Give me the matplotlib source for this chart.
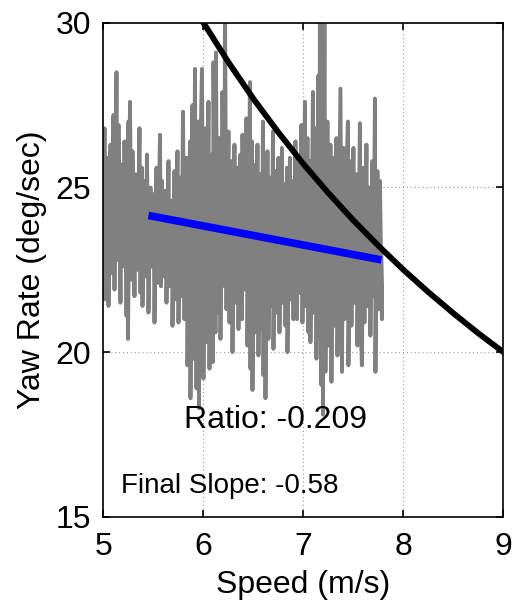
import matplotlib
matplotlib.use('Agg')
import matplotlib.pyplot as plt

plt.rcParams['font.family'] = ['Liberation Sans', 'DejaVu Sans']

# measured yaw rate trace (speed in m/s, yaw rate in deg/sec)
speed = [5.00, 5.01, 5.02, 5.04, 5.05, 5.07, 5.08, 5.10, 5.11, 5.13,
         5.14, 5.15, 5.17, 5.18, 5.20, 5.21, 5.23, 5.25, 5.245, 5.265,
         5.28, 5.29, 5.31, 5.32, 5.34, 5.36, 5.37, 5.385, 5.39, 5.41,
         5.42, 5.435, 5.45, 5.47, 5.48, 5.50, 5.51, 5.53, 5.54, 5.565,
         5.575, 5.585, 5.60, 5.62, 5.63, 5.65, 5.66, 5.685, 5.69, 5.71,
         5.72, 5.74, 5.75, 5.77, 5.78, 5.795, 5.81, 5.83, 5.84, 5.865,
         5.87, 5.89, 5.90, 5.915, 5.93, 5.95, 5.955, 5.97, 5.985, 6.00,
         6.02, 6.03, 6.05, 6.06, 6.08, 6.095, 6.10, 6.12, 6.125, 6.14,
         6.16, 6.17, 6.19, 6.21, 6.215, 6.23, 6.25, 6.26, 6.285, 6.29,
         6.31, 6.32, 6.34, 6.35, 6.37, 6.385, 6.39, 6.41, 6.43, 6.44,
         6.465, 6.47, 6.485, 6.49, 6.51, 6.52, 6.54, 6.55, 6.57, 6.58,
         6.595, 6.60, 6.615, 6.62, 6.64, 6.65, 6.67, 6.68, 6.695, 6.70,
         6.72, 6.73, 6.75, 6.76, 6.785, 6.79, 6.81, 6.82, 6.835, 6.84,
         6.865, 6.87, 6.89, 6.90, 6.92, 6.935, 6.95, 6.96, 6.98, 6.99,
         7.015, 7.02, 7.04, 7.05, 7.065, 7.07, 7.095, 7.10, 7.12, 7.13,
         7.15, 7.16, 7.165, 7.18, 7.195, 7.195, 7.21, 7.22, 7.24, 7.25,
         7.27, 7.28, 7.30, 7.31, 7.33, 7.34, 7.36, 7.37, 7.385, 7.40,
         7.41, 7.43, 7.445, 7.45, 7.47, 7.48, 7.50, 7.51, 7.53, 7.54,
         7.565, 7.57, 7.585, 7.60, 7.61, 7.63, 7.64, 7.66, 7.67, 7.69,
         7.70, 7.715, 7.72, 7.74, 7.75, 7.765, 7.785, 7.78]
yaw_rate = [23.5, 26.8, 21.6, 25.9, 21.4, 26.3, 22.4, 27.2, 21.9, 28.5,
            22.8, 26.9, 21.5, 25.7, 22.6, 26.4, 21.1, 27.0, 20.4, 27.6,
            22.2, 26.1, 21.7, 25.4, 22.5, 26.8, 21.8, 25.6, 21.4, 25.2,
            22.3, 26.0, 21.2, 25.0, 22.6, 24.8, 20.9, 25.6, 22.1, 26.6,
            22.0, 25.2, 22.3, 24.9, 21.5, 25.8, 22.0, 24.6, 20.8, 25.5,
            21.6, 26.1, 20.9, 25.3, 21.7, 27.3, 21.0, 25.9, 19.6, 26.4,
            18.6, 27.5, 19.8, 28.6, 18.9, 27.0, 18.3, 26.2, 28.6, 19.2,
            26.8, 20.3, 27.6, 19.5, 26.0, 19.7, 28.8, 20.6, 29.1, 21.2,
            26.5, 20.4, 27.9, 22.0, 31.0, 21.3, 26.7, 20.9, 25.8, 20.0,
            26.3, 21.5, 25.6, 20.7, 26.0, 21.0, 26.6, 21.9, 27.1, 20.2,
            28.2, 19.5, 26.4, 18.85, 25.7, 20.6, 26.3, 19.9, 25.4, 20.7,
            27.0, 19.3, 25.8, 18.6, 26.1, 20.4, 25.3, 21.4, 26.7, 20.1,
            25.5, 21.2, 25.9, 20.6, 26.2, 21.5, 25.1, 20.8, 25.6, 20.0,
            25.9, 21.6, 25.2, 21.0, 26.4, 21.0, 25.7, 21.8, 26.9, 20.9,
            27.6, 21.4, 26.5, 20.6, 25.8, 20.3, 27.9, 21.2, 26.8, 19.8,
            28.4, 20.5, 31.0, 19.0, 30.5, 18.1, 31.0, 19.4, 27.0, 20.2,
            26.3, 19.1, 25.9, 20.8, 26.5, 19.9, 25.4, 28.0, 19.4, 26.2,
            21.0, 25.5, 27.0, 19.6, 25.8, 20.8, 26.2, 21.5, 25.4, 20.2,
            26.95, 21.0, 19.6, 25.6, 20.9, 26.3, 21.4, 25.0, 20.5, 25.8,
            21.7, 27.7, 19.4, 25.5, 21.3, 25.2, 21.0, 22.9]

# linear fit over the data range
fit_speed = [5.45, 7.78]
fit_yaw = [24.15, 22.80]

# limit curve
limit_speed = [6.0, 6.25, 6.5, 6.75, 7.0, 7.25, 7.5, 7.75, 8.0, 8.25, 8.5, 8.75, 9.0]
limit_yaw = [30.0, 28.8, 27.69, 26.67, 25.71, 24.83, 24.0, 23.23, 22.5, 21.82, 21.18, 20.57, 20.0]

ratio_text = 'Ratio: -0.209'
slope_text = 'Final Slope: -0.58'

fig = plt.figure(figsize=(5.18, 6.08), dpi=100)
ax = fig.add_axes([0.1998, 0.150, 0.772, 0.8125])

ax.plot(speed, yaw_rate, color='#808080', lw=2.8, zorder=2)
ax.plot(fit_speed, fit_yaw, color='#0000ff', lw=5.5, zorder=3, solid_capstyle='butt')
ax.plot(limit_speed, limit_yaw, color='black', lw=4.2, zorder=3)

ax.text(6.72, 17.95, ratio_text, fontsize=23, ha='center', va='center')
ax.text(5.18, 15.95, slope_text, fontsize=20, ha='left', va='center')

ax.set_xlim(5, 9)
ax.set_ylim(15, 30)
ax.set_xticks([5, 6, 7, 8, 9])
ax.set_yticks([15, 20, 25, 30])
ax.set_axisbelow(True)
ax.grid(True, color='#999999', linestyle=(0, (1, 2.5)), lw=0.8)
ax.tick_params(direction='in', top=True, right=True, length=5, width=1.2,
               labelsize=23, pad=11)
ax.tick_params(axis='y', pad=9)
for s in ax.spines.values():
    s.set_linewidth(1.2)

ax.set_xlabel('Speed (m/s)', fontsize=23, labelpad=6)
ax.set_ylabel('Yaw Rate (deg/sec)', fontsize=23, labelpad=6)

fig.savefig('out.png', dpi=100)
